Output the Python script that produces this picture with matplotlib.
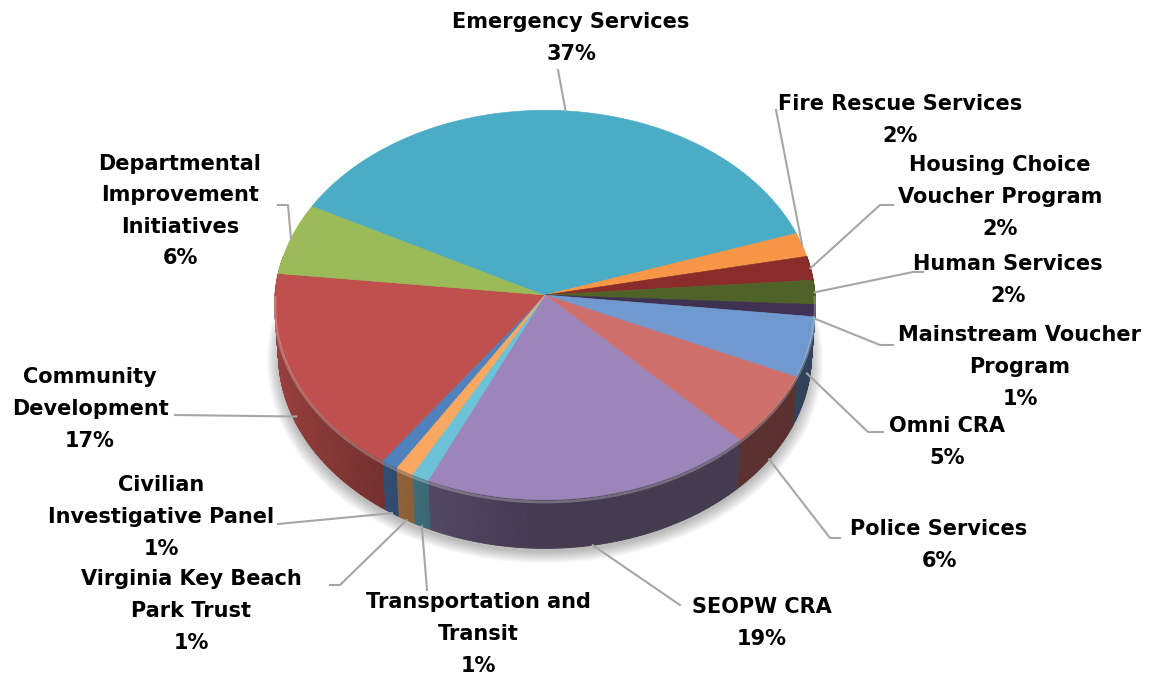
import numpy as np
import matplotlib
matplotlib.use("Agg")
import matplotlib.pyplot as plt
from matplotlib.collections import PolyCollection
from matplotlib.patches import Polygon

# data (clockwise from the Civilian slice)
labels = ["Civilian\nInvestigative Panel", "Community\nDevelopment",
          "Departmental\nImprovement\nInitiatives", "Emergency Services",
          "Fire Rescue Services", "Housing Choice\nVoucher Program",
          "Human Services", "Mainstream Voucher\nProgram", "Omni CRA",
          "Police Services", "SEOPW CRA", "Transportation and\nTransit",
          "Virginia Key Beach\nPark Trust"]
values = [1, 17, 6, 37, 2, 2, 2, 1, 5, 6, 19, 1, 1]
colors = ["#4F81BD", "#C0504D", "#9BBB59", "#4BACC6", "#F79646", "#8A2C2A",
          "#4F6228", "#3F3151", "#7099CF", "#CF706C", "#9C86B9", "#6CC3D8",
          "#F9A862"]

# label layout (pixel positions of text centres and leader elbows)
label_pos = [(161, 517), (90, 409), (180, 211), (571, 38), (900, 120),
             (1000, 197), (1008, 280), (1020, 367), (947, 442), (939, 545),
             (762, 623), (478, 634), (191, 611)]
elbows = [[(278, 524)], [(175, 415)], [(288, 205), (278, 205)], [(558, 70)],
          [(776, 110)], [(880, 205), (893, 205)], [(913, 272), (923, 272)],
          [(880, 345), (893, 345)], [(868, 432), (883, 432)],
          [(830, 538), (840, 538)], [(680, 605)], [(427, 590)],
          [(340, 585), (330, 585)]]

W, H = 1156, 677
cx, cy, R = 545, 295, 270
elev = np.radians(46)
se, ce = np.sin(elev), np.cos(elev)
dist = 13.5
depth = 0.265
start = 238.4


def proj(t, z):
    x, y = np.cos(t), np.sin(t)
    w = -y * ce + z * se
    s = 1.0 / (1.0 - w / dist)
    return cx + R * x * s, cy - R * (y * se + z * ce) * s


def shade(c, f):
    r, g, b = matplotlib.colors.to_rgb(c)
    return (r * f, g * f, b * f)


fig = plt.figure(figsize=(W / 100, H / 100), dpi=100)
ax = fig.add_axes([0, 0, 1, 1])
ax.set_xlim(0, W)
ax.set_ylim(H, 0)
ax.axis("off")

# soft shadow
tt = np.linspace(0, 2 * np.pi, 300)
for k in range(8):
    sx, sy = proj(tt, -depth)
    grow = 1.0 + 0.006 * k
    px = cx + (sx - cx) * grow
    py = cy + (sy - cy) * grow + 4
    ax.add_patch(Polygon(np.c_[px, py], closed=True, fc="black", ec="none",
                         alpha=0.035, zorder=1))

fracs = np.array(values) / sum(values)
bounds = np.radians(start - 360 * np.concatenate([[0], np.cumsum(fracs)]))

# sides
quads, qcols = [], []
for i in range(len(values)):
    a0, a1 = bounds[i], bounds[i + 1]
    n = max(3, int(abs(a0 - a1) / np.radians(0.5)))
    ts = np.linspace(a0, a1, n + 1)
    for j in range(n):
        t1, t2 = ts[j], ts[j + 1]
        tm = 0.5 * (t1 + t2)
        if np.sin(tm) > 0.2:
            continue
        p = [proj(t1, 0), proj(t2, 0), proj(t2, -depth), proj(t1, -depth)]
        quads.append(p)
        f = 0.44 + 0.36 * max(0.0, -np.cos(tm)) ** 1.5
        qcols.append(shade(colors[i], f))
ax.add_collection(PolyCollection(quads, facecolors=qcols, edgecolors=qcols,
                                 linewidths=0.6, zorder=2))

# tops
for i in range(len(values)):
    ts = np.linspace(bounds[i], bounds[i + 1], 80)
    xs, ys = proj(ts, 0)
    pts = np.r_[[[cx, cy]], np.c_[xs, ys]]
    ax.add_patch(Polygon(pts, closed=True, fc=colors[i], ec=colors[i],
                         lw=0.4, zorder=3))

# rim highlight on the front edge
tf = np.linspace(np.pi, 2 * np.pi, 200)
rx, ry = proj(tf, -0.012)
ax.plot(rx, ry, color="white", alpha=0.25, lw=2, zorder=4)

# leader lines and labels
for i in range(len(values)):
    mid = 0.5 * (bounds[i] + bounds[i + 1])
    z = -depth * np.clip(-np.sin(mid) / 0.5, 0, 1)
    ax0, ay0 = proj(mid, z)
    path = [(ax0, ay0)] + elbows[i]
    ax.plot([p[0] for p in path], [p[1] for p in path], color="#A6A6A6",
            lw=1.5, zorder=5)
    ax.text(label_pos[i][0], label_pos[i][1],
            "%s\n%d%%" % (labels[i], values[i]), ha="center", va="center",
            fontsize=15, fontweight="bold", color="black", linespacing=1.72,
            zorder=6)

fig.savefig("out.png", dpi=100)
